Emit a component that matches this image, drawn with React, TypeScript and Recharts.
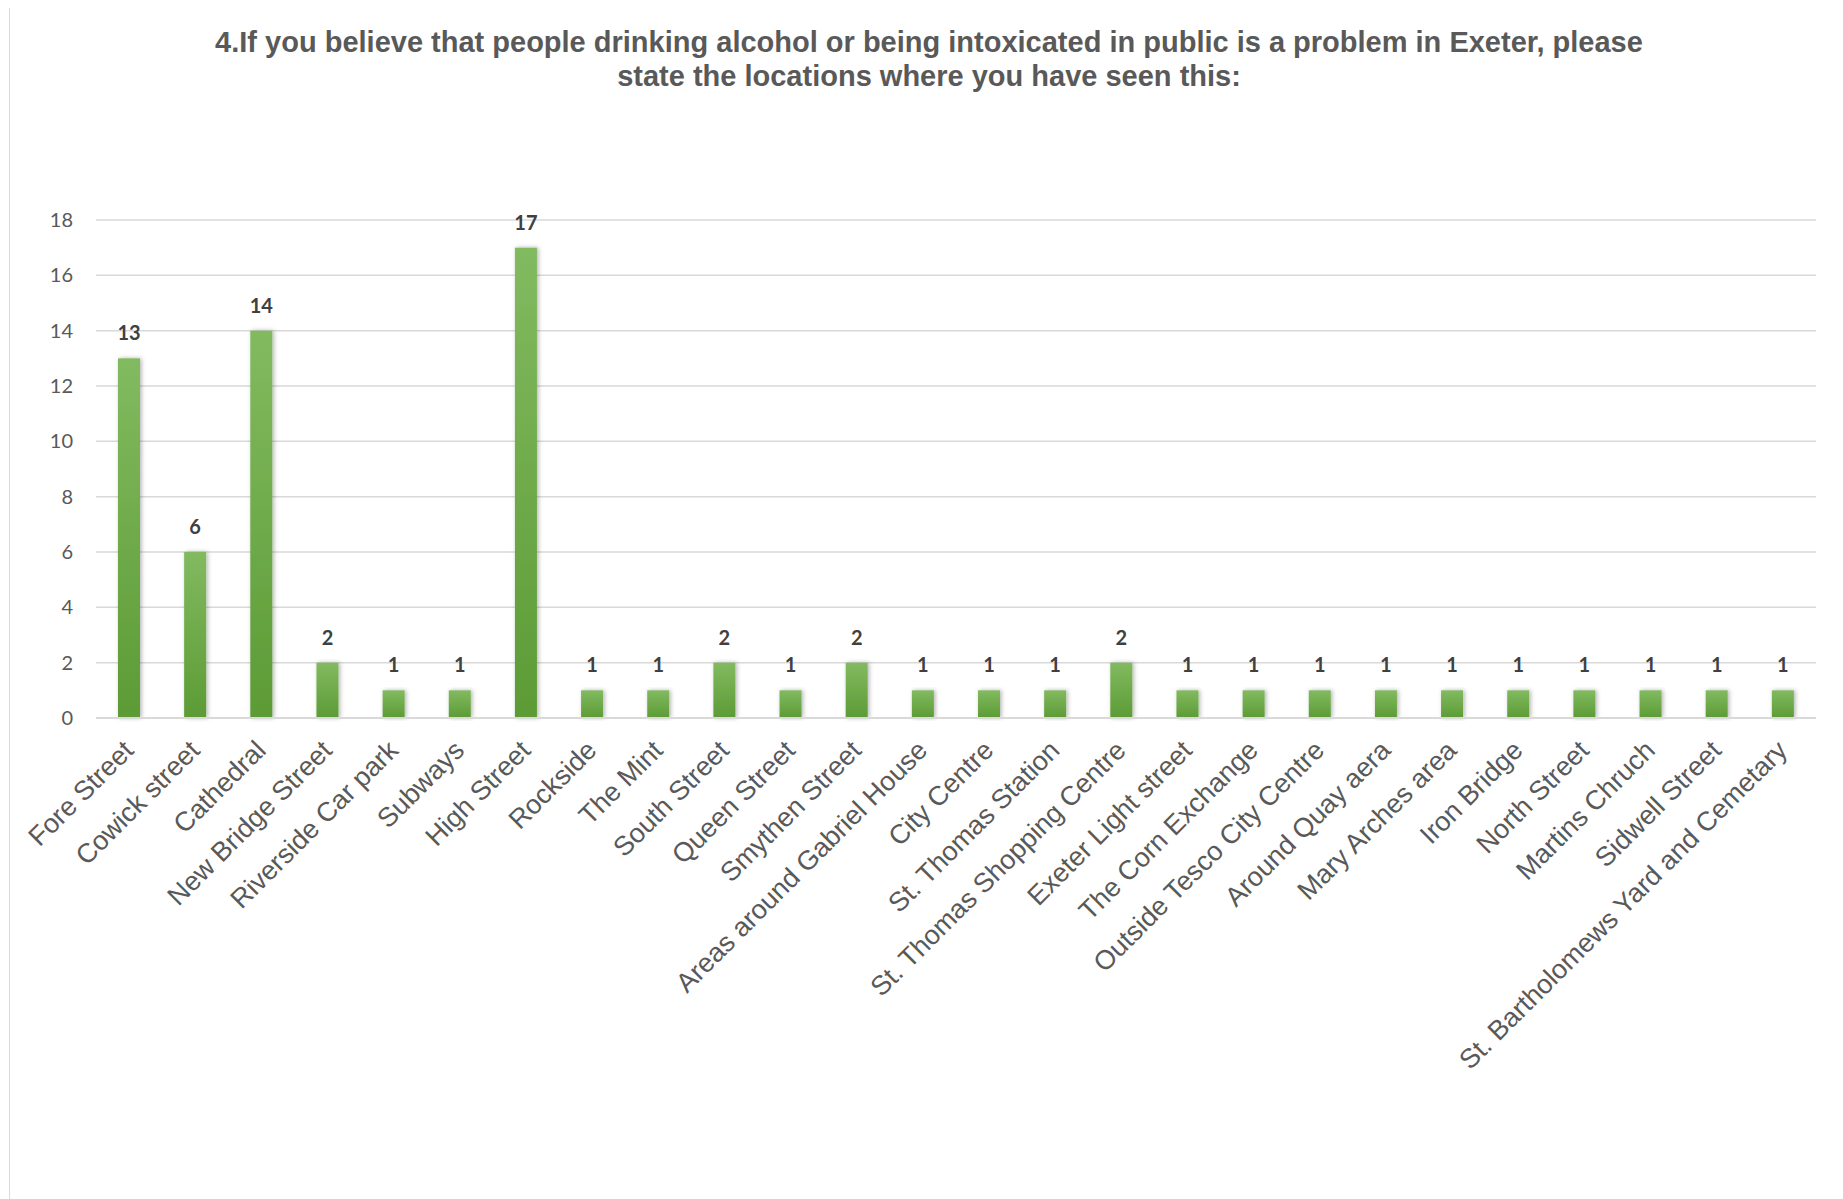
import React from "react"
import { BarChart, Bar, XAxis, YAxis, CartesianGrid, LabelList } from "recharts"

const locations = [
  "Fore Street",
  "Cowick street",
  "Cathedral",
  "New Bridge Street",
  "Riverside Car park",
  "Subways",
  "High Street",
  "Rockside",
  "The Mint",
  "South Street",
  "Queen Street",
  "Smythen Street",
  "Areas around Gabriel House",
  "City Centre",
  "St. Thomas Station",
  "St. Thomas Shopping Centre",
  "Exeter Light street",
  "The Corn Exchange",
  "Outside Tesco City Centre",
  "Around Quay aera",
  "Mary Arches area",
  "Iron Bridge",
  "North Street",
  "Martins Chruch",
  "Sidwell Street",
  "St. Bartholomews Yard and Cemetary",
]

const counts = [13, 6, 14, 2, 1, 1, 17, 1, 1, 2, 1, 2, 1, 1, 1, 2, 1, 1, 1, 1, 1, 1, 1, 1, 1, 1]

const yTicks = [0, 2, 4, 6, 8, 10, 12, 14, 16, 18]

const titleLines = [
  "4.If you believe that people drinking alcohol or being intoxicated in public is a problem in Exeter, please",
  "state the locations where you have seen this:",
]

const data = locations.map((name, i) => ({ name, value: counts[i] }))

const XTick = ({ x, y, payload }: any) => (
  <g transform={`translate(${x + 6},${y + 26}) rotate(-45)`}>
    <text
      x={0}
      y={0}
      textAnchor="end"
      fill="#595959"
      fontSize={27}
      fontFamily="'Liberation Sans', Arial, sans-serif"
    >
      {payload.value}
    </text>
  </g>
)

const ShadowBar = ({ x, y, width, height }: any) => (
  <rect x={x} y={y} width={width} height={height} fill="url(#barGreen)" filter="url(#barShadow)" />
)

export default function App() {
  return (
    <div style={{ position: "relative", width: 1843, height: 1199, margin: "-8px 0 0 -8px", background: "#fff", overflow: "hidden" }}>
      <div
        style={{
          position: "absolute",
          left: 9,
          top: 3,
          width: 1900,
          height: 1300,
          border: "1px solid #d9d9d9",
          boxSizing: "border-box",
        }}
      />
      <div
        style={{
          position: "absolute",
          left: 0,
          width: 1858,
          top: 25,
          textAlign: "center",
          fontFamily: "'Liberation Sans', Arial, sans-serif",
          fontWeight: "bold",
          fontSize: 29,
          lineHeight: "34px",
          color: "#595959",
        }}
      >
        {titleLines.map((t) => (
          <div key={t}>{t}</div>
        ))}
      </div>
      <div style={{ position: "absolute", left: 0, top: 0 }}>
        <BarChart width={1843} height={1199} data={data} margin={{ top: 220, right: 27, bottom: 81, left: 0 }}>
          <defs>
            <linearGradient id="barGreen" x1="0" x2="0" y1="0" y2="1">
              <stop offset="0%" stopColor="#82ba60" />
              <stop offset="100%" stopColor="#5c9b35" />
            </linearGradient>
            <filter id="barShadow" x="-50%" y="-10%" width="200%" height="120%">
              <feDropShadow dx="1.5" dy="0" stdDeviation="2" floodColor="#000" floodOpacity="0.3" />
            </filter>
          </defs>
          <CartesianGrid vertical={false} stroke="#d9d9d9" strokeWidth={1.5} />
          <XAxis
            dataKey="name"
            interval={0}
            height={400}
            tick={<XTick />}
            tickLine={false}
            axisLine={{ stroke: "#d9d9d9", strokeWidth: 2 }}
          />
          <YAxis
            domain={[0, 18]}
            ticks={yTicks}
            width={96}
            tickLine={false}
            axisLine={false}
            tickMargin={17}
            tick={{ fill: "#595959", fontSize: 20, fontFamily: "Lato, 'Open Sans', sans-serif" }}
          />
          <Bar dataKey="value" barSize={22} shape={<ShadowBar />} isAnimationActive={false}>
            <LabelList
              dataKey="value"
              position="top"
              offset={18}
              fill="#404040"
              fontSize={20}
              fontWeight="bold"
              fontFamily="Lato, 'Open Sans', sans-serif"
            />
          </Bar>
        </BarChart>
      </div>
    </div>
  )
}
